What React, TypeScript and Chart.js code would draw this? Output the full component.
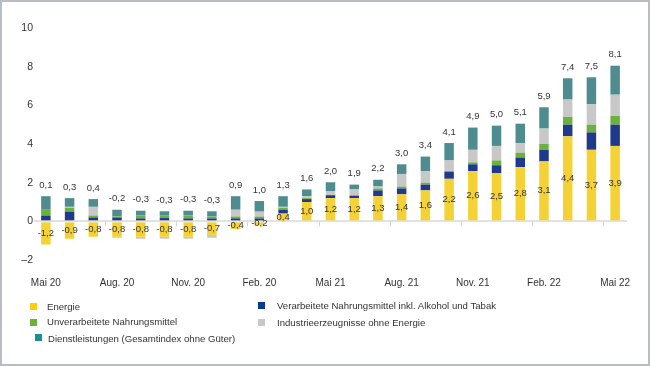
import React, { useEffect, useRef } from "react";
import { Chart, registerables } from "chart.js";

Chart.register(...registerables);

const months = [
  "Mai 20", "Jun. 20", "Jul. 20", "Aug. 20", "Sep. 20", "Okt. 20", "Nov. 20", "Dez. 20",
  "Jan. 21", "Feb. 21", "Mär. 21", "Apr. 21", "Mai 21", "Jun. 21", "Jul. 21", "Aug. 21",
  "Sep. 21", "Okt. 21", "Nov. 21", "Dez. 21", "Jan. 22", "Feb. 22", "Mär. 22", "Apr. 22", "Mai 22",
];

const tickLabels = [
  "Mai 20", "", "", "Aug. 20", "", "", "Nov. 20", "", "", "Feb. 20", "", "", "Mai 21",
  "", "", "Aug. 21", "", "", "Nov. 21", "", "", "Feb. 22", "", "", "Mai 22",
];

const energie = [-1.2, -0.9, -0.8, -0.8, -0.8, -0.8, -0.8, -0.7, -0.4, -0.2, 0.4, 1.0, 1.2, 1.2, 1.3, 1.4, 1.6, 2.2, 2.6, 2.5, 2.8, 3.1, 4.4, 3.7, 3.9];
const verarbeitet = [0.3, 0.5, 0.2, 0.2, 0.15, 0.17, 0.15, 0.15, 0.15, 0.15, 0.2, 0.15, 0.15, 0.12, 0.3, 0.3, 0.3, 0.35, 0.35, 0.4, 0.5, 0.6, 0.6, 0.9, 1.1];
const unverarbeitet = [0.3, 0.2, 0.1, 0.05, 0.15, 0.15, 0.15, 0.1, 0.1, 0.1, 0.1, 0.05, 0.02, 0.03, 0.1, 0.1, 0.1, 0.05, 0.1, 0.25, 0.25, 0.3, 0.4, 0.4, 0.45];
const industrie = [0.0, 0.05, 0.45, -0.05, -0.1, -0.1, -0.1, -0.15, 0.35, 0.25, 0.05, 0.1, 0.2, 0.3, 0.1, 0.65, 0.6, 0.55, 0.65, 0.75, 0.5, 0.8, 0.9, 1.05, 1.1];
const dienst = [0.7, 0.45, 0.4, 0.35, 0.25, 0.2, 0.25, 0.27, 0.7, 0.55, 0.55, 0.35, 0.45, 0.25, 0.35, 0.5, 0.75, 0.9, 1.15, 1.05, 1.0, 1.1, 1.1, 1.4, 1.5];
const totals = [0.1, 0.3, 0.4, -0.2, -0.3, -0.3, -0.3, -0.3, 0.9, 1.0, 1.3, 1.6, 2.0, 1.9, 2.2, 3.0, 3.4, 4.1, 4.9, 5.0, 5.1, 5.9, 7.4, 7.5, 8.1];

const FONT = "'Liberation Sans', Arial, Helvetica, sans-serif";
const TEXT = "#333333";

const series = [
  { label: "Energie", data: energie, color: "#f4d235", legend: "#fdcc0c" },
  { label: "Verarbeitete Nahrungsmittel inkl. Alkohol und Tabak", data: verarbeitet, color: "#1f3a8c", legend: "#0a3a8e" },
  { label: "Unverarbeitete Nahrungsmittel", data: unverarbeitet, color: "#6bb13e", legend: "#6ab23a" },
  { label: "Industrieerzeugnisse ohne Energie", data: industrie, color: "#c8c8c8", legend: "#c8c8c8" },
  { label: "Dienstleistungen (Gesamtindex ohne Güter)", data: dienst, color: "#4f8c90", legend: "#1b9091" },
];

const fmt = (v: number) => v.toFixed(1).replace(".", ",");

const labelPlugin = {
  id: "labels",
  afterDatasetsDraw(chart: any) {
    const ctx = chart.ctx;
    const y = chart.scales.y;
    const x = chart.scales.x;
    ctx.save();
    // boundary ticks on the zero line
    ctx.strokeStyle = "#d6d6d6";
    ctx.lineWidth = 1;
    const y0 = y.getPixelForValue(0);
    for (let i = 3; i < months.length; i += 3) {
      const bx = Math.round((x.getPixelForValue(i - 1) + x.getPixelForValue(i)) / 2) + 0.5;
      ctx.beginPath();
      ctx.moveTo(bx, y0);
      ctx.lineTo(bx, y0 + 5);
      ctx.stroke();
    }
    ctx.fillStyle = TEXT;
    ctx.font = "9.5px " + FONT;
    ctx.textAlign = "center";
    ctx.textBaseline = "middle";
    const meta0 = chart.getDatasetMeta(0);
    for (let i = 0; i < months.length; i++) {
      let pos = 0;
      series.forEach((s) => { if (s.data[i] > 0) pos += s.data[i]; });
      const px = x.getPixelForValue(i);
      ctx.fillText(fmt(totals[i]), px, y.getPixelForValue(pos) - 11);
      const el = meta0.data[i];
      ctx.fillText(fmt(energie[i]), px, (el.y + el.base) / 2);
    }
    ctx.restore();
  },
};

export default function App() {
  const ref = useRef<HTMLCanvasElement>(null);
  useEffect(() => {
    document.body.style.margin = "0";
    const chart = new Chart(ref.current!, {
      type: "bar",
      data: {
        labels: months,
        datasets: series.map((s) => ({
          label: s.label,
          data: s.data,
          backgroundColor: s.color,
          borderWidth: 0,
          barPercentage: 0.4,
          categoryPercentage: 1,
        })),
      },
      options: {
        animation: false,
        responsive: false,
        maintainAspectRatio: false,
        layout: { padding: { left: 8, right: 23, top: 28, bottom: 8 } },
        plugins: { legend: { display: false }, tooltip: { enabled: false } },
        scales: {
          x: {
            stacked: true,
            grid: { display: false, drawTicks: false },
            border: { display: false },
            ticks: {
              autoSkip: false,
              maxRotation: 0,
              padding: 17,
              color: TEXT,
              font: { family: FONT, size: 10 },
              callback: (_v: any, i: number) => tickLabels[i],
            },
            afterFit: (s: any) => { s.height = 32; },
          },
          y: {
            stacked: true,
            min: -2,
            max: 10,
            grid: {
              drawTicks: false,
              lineWidth: (c: any) => (c.tick && c.tick.value === 0 ? 2 : 0),
              color: (c: any) => (c.tick && c.tick.value === 0 ? "#e2e2e2" : "rgba(0,0,0,0)"),
            },
            border: { display: false },
            ticks: {
              stepSize: 2,
              padding: 1,
              color: TEXT,
              font: { family: FONT, size: 10.5 },
              callback: (v: any) => (v < 0 ? "–" + Math.abs(v) : String(v)),
            },
            afterFit: (s: any) => { s.width = 26; },
          },
        },
      },
      plugins: [labelPlugin],
    });
    return () => chart.destroy();
  }, []);

  const legendItem = (i: number, sqLeft: number, sqTop: number, sq: number, txtLeft: number, txtCenter: number) => (
    <React.Fragment key={i}>
      <div style={{ position: "absolute", left: sqLeft, top: sqTop, width: sq, height: sq, background: series[i].legend }} />
      <div
        style={{
          position: "absolute",
          left: txtLeft,
          top: txtCenter - 7,
          height: 14,
          lineHeight: "14px",
          fontSize: 9.6,
          fontFamily: FONT,
          color: TEXT,
          whiteSpace: "nowrap",
        }}
      >
        {series[i].label}
      </div>
    </React.Fragment>
  );

  return (
    <div style={{ position: "relative", width: 650, height: 366, background: "#fff", overflow: "hidden" }}>
      <canvas ref={ref} width={650} height={300} style={{ position: "absolute", left: 0, top: 0, width: 650, height: 300 }} />
      {legendItem(0, 30, 303, 7, 47, 307)}
      {legendItem(2, 30, 319, 7, 47, 322)}
      {legendItem(4, 35, 334, 7, 48, 339)}
      {legendItem(1, 258, 302, 7, 277, 306)}
      {legendItem(3, 258, 319, 7, 277, 322.5)}
      <div
        style={{
          position: "absolute",
          left: 0,
          top: 0,
          width: 650,
          height: 366,
          boxSizing: "border-box",
          border: "2px solid #b8bdc3",
          pointerEvents: "none",
        }}
      />
    </div>
  );
}
